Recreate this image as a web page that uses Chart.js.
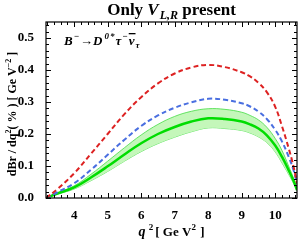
<!DOCTYPE html>
<html lang="en">
<head>
    <meta charset="UTF-8">
    <title>Only VLR present</title>
    <script src="https://cdn.jsdelivr.net/npm/chart.js@4"></script>
    <style>
        html, body {
            margin: 0;
            padding: 0;
            background: #fff;
        }
        #wrap {
            width: 300px;
            height: 240px;
            position: relative;
        }
    </style>
</head>
<body>
    <div id="wrap"><canvas id="myChart"></canvas></div>

    <script>
        // q^2 grid (GeV^2) and the curves
        const q2 = [3.16, 3.5, 4, 4.5, 5, 5.5, 6, 6.5, 7, 7.5, 8, 8.5, 9, 9.25, 9.5, 9.75, 10, 10.2, 10.4, 10.55, 10.65];
        const redVals = [0, 0.028, 0.077, 0.138, 0.2, 0.262, 0.315, 0.358, 0.389, 0.408, 0.416, 0.409, 0.393, 0.38, 0.36, 0.331, 0.285, 0.225, 0.156, 0.097, 0.045];
        const blueVals = [0, 0.018, 0.046, 0.088, 0.135, 0.182, 0.225, 0.258, 0.282, 0.299, 0.31, 0.307, 0.296, 0.286, 0.27, 0.247, 0.213, 0.177, 0.129, 0.086, 0.045];
        const greenVals = [0, 0.014, 0.033, 0.064, 0.099, 0.136, 0.171, 0.2, 0.222, 0.239, 0.249, 0.247, 0.239, 0.23, 0.217, 0.196, 0.164, 0.129, 0.087, 0.053, 0.025];
        const greenHi = [0, 0.016, 0.038, 0.074, 0.115, 0.157, 0.197, 0.23, 0.255, 0.271, 0.279, 0.277, 0.268, 0.258, 0.244, 0.221, 0.186, 0.149, 0.1, 0.061, 0.029];
        const greenLo = [0, 0.012, 0.028, 0.054, 0.083, 0.115, 0.145, 0.17, 0.19, 0.207, 0.219, 0.217, 0.211, 0.203, 0.191, 0.173, 0.144, 0.11, 0.074, 0.045, 0.021];
        const xTicks = [4, 5, 6, 7, 8, 9, 10];
        const yTicks = [0, 0.1, 0.2, 0.3, 0.4, 0.5];

        const pts = (arr) => arr.map((v, i) => ({ x: q2[i], y: v }));
        const serif = '"Liberation Serif", "DejaVu Serif", serif';

        // draw a run of text pieces: [text, font, dy, gap]
        function drawRun(ctx, x, y, parts) {
            let cx = x;
            parts.forEach(p => {
                ctx.font = p[1];
                ctx.fillText(p[0], cx, y + (p[2] || 0));
                cx += ctx.measureText(p[0]).width + (p[3] || 0);
            });
            return cx;
        }
        function runWidth(ctx, parts) {
            let w = 0;
            parts.forEach(p => {
                ctx.font = p[1];
                w += ctx.measureText(p[0]).width + (p[3] || 0);
            });
            return w;
        }

        const decor = {
            id: 'decor',
            afterDraw(chart) {
                const ctx = chart.ctx;
                const a = chart.chartArea;
                const xs = chart.scales.x, ys = chart.scales.y;
                ctx.save();

                // frame ticks, pointing inward
                ctx.strokeStyle = '#000';
                ctx.lineWidth = 1;
                ctx.beginPath();
                for (let v = 3.2; v <= 10.65; v += 0.2) {
                    const px = Math.round(xs.getPixelForValue(v)) + 0.5;
                    const major = Math.abs(v - Math.round(v)) < 0.01;
                    const len = major ? 5 : 3;
                    ctx.moveTo(px, a.bottom); ctx.lineTo(px, a.bottom - len);
                    ctx.moveTo(px, a.top); ctx.lineTo(px, a.top + len);
                }
                for (let v = 0; v <= 0.55; v += 0.02) {
                    const py = Math.round(ys.getPixelForValue(v)) + 0.5;
                    const major = Math.abs(v * 10 - Math.round(v * 10)) < 0.01;
                    const len = major ? 5 : 3;
                    ctx.moveTo(a.left, py); ctx.lineTo(a.left + len, py);
                    ctx.moveTo(a.right, py); ctx.lineTo(a.right - len, py);
                }
                ctx.stroke();
                ctx.lineWidth = 1.2;
                ctx.strokeRect(a.left, a.top, a.right - a.left, a.bottom - a.top);

                ctx.fillStyle = '#000';
                ctx.textBaseline = 'alphabetic';

                // title
                const tb = 'bold 17px ' + serif;
                const ti = 'bold italic 17px ' + serif;
                const ts = 'bold italic 12px ' + serif;
                const title = [['Only ', tb], ['V', ti, 0, 1], ['L,R', ts, 4, 0], [' present', tb]];
                const cx = (a.left + a.right) / 2;
                drawRun(ctx, cx - runWidth(ctx, title) / 2, 15, title);

                // decay label
                const fi = 'bold italic 13px ' + serif;
                const fs = 'bold italic 9px ' + serif;
                const fr = 'bold 13px ' + serif;
                const bx = 64, by = 45;
                let ex = drawRun(ctx, bx, by, [['B', fi, 0, 1], ['\u2212', fs, -6, 1], ['\u2192', fr], ['D', fi, 0, 2], ['0', fs, -6, 1], ['*', fs, -6, 1], ['\u03C4', fi, 0, 1], ['\u2212', fs, -6, 1]]);
                ctx.font = fi;
                ctx.fillText('\u03BD', ex, by);
                const nw = ctx.measureText('\u03BD').width;
                ctx.fillRect(ex, by - 12, nw + 1, 1.3);
                drawRun(ctx, ex + nw + 1, by, [['\u03C4', fs, 3]]);

                // x axis title
                const xb = 'bold 13px ' + serif;
                const xi = 'bold italic 14px ' + serif;
                const xsup = 'bold 9px ' + serif;
                const xt = [['q', xi, 0, 1], [' 2', xsup, -6, 2], ['[ Ge V', xb], ['2', xsup, -6, 1], [' ]', xb]];
                drawRun(ctx, cx - runWidth(ctx, xt) / 2, 236, xt);

                // y axis title (rotated)
                ctx.save();
                ctx.translate(16, (a.top + a.bottom) / 2 + 4);
                ctx.rotate(-Math.PI / 2);
                const yb = 'bold 12px ' + serif;
                const ysup = 'bold 8px ' + serif;
                const yt = [['dBr / dq', yb], ['2', ysup, -5], ['( % ) [ Ge V', yb], ['\u22122', ysup, -5], [' ]', yb]];
                drawRun(ctx, -runWidth(ctx, yt) / 2, 0, yt);
                ctx.restore();

                ctx.restore();
            }
        };

        new Chart('myChart', {
            type: 'line',
            data: {
                datasets: [{
                    data: pts(redVals),
                    borderColor: '#dd2222',
                    borderWidth: 2,
                    borderDash: [5, 3],
                    fill: false
                }, {
                    data: pts(blueVals),
                    borderColor: '#4a6fe0',
                    borderWidth: 2,
                    borderDash: [5, 3],
                    fill: false
                }, {
                    data: pts(greenVals),
                    borderColor: '#00dd00',
                    borderWidth: 2.5,
                    fill: false
                }, {
                    data: pts(greenHi),
                    borderColor: '#44dd44',
                    borderWidth: 0.8,
                    backgroundColor: 'rgba(196,247,186,1)',
                    fill: '+1'
                }, {
                    data: pts(greenLo),
                    borderColor: '#44dd44',
                    borderWidth: 0.8,
                    fill: false
                }]
            },
            options: {
                responsive: true,
                maintainAspectRatio: false,
                animation: false,
                devicePixelRatio: 1,
                layout: { padding: { top: 22, right: 3, left: 0, bottom: 0 } },
                elements: {
                    point: { radius: 0 },
                    line: { tension: 0.4 }
                },
                plugins: {
                    legend: { display: false },
                    tooltip: { enabled: false }
                },
                scales: {
                    x: {
                        type: 'linear',
                        min: 3.16,
                        max: 10.65,
                        afterFit: (s) => { s.height = 42; },
                        afterBuildTicks: (s) => { s.ticks = xTicks.map(v => ({ value: v })); },
                        grid: { display: false },
                        border: { display: false },
                        ticks: {
                            color: '#000',
                            padding: 2,
                            font: { family: serif, size: 13, weight: 'bold' }
                        }
                    },
                    y: {
                        min: 0,
                        max: 0.55,
                        afterFit: (s) => { s.width = 46; },
                        afterBuildTicks: (s) => { s.ticks = yTicks.map(v => ({ value: v })); },
                        grid: { display: false },
                        border: { display: false },
                        ticks: {
                            color: '#000',
                            padding: 4,
                            font: { family: serif, size: 13, weight: 'bold' },
                            callback: (v) => v.toFixed(1)
                        }
                    }
                }
            },
            plugins: [decor]
        });
    </script>
</body>
</html>
